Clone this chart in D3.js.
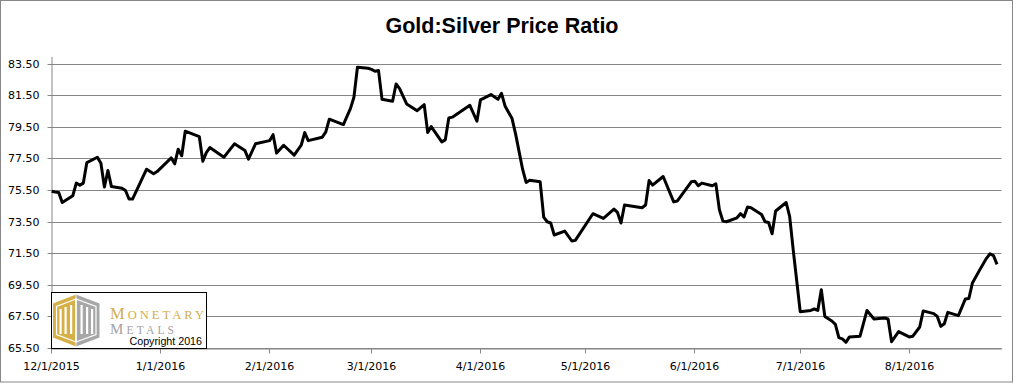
<!DOCTYPE html>
<html><head><meta charset="utf-8">
<script src="https://cdn.jsdelivr.net/npm/d3@7"></script>
<style>body{margin:0;background:#fff}svg{display:block}</style>
</head><body>
<svg id="c" width="1016" height="383"></svg>
<script>
const chartTitle = "Gold:Silver Price Ratio";
const dates = [
"12/1/2015","12/2/2015","12/3/2015","12/4/2015","12/7/2015","12/8/2015","12/9/2015","12/10/2015","12/11/2015",
"12/14/2015","12/15/2015","12/16/2015","12/17/2015","12/18/2015","12/21/2015","12/22/2015","12/23/2015","12/24/2015",
"12/28/2015","12/30/2015","12/31/2015","1/4/2016","1/5/2016","1/6/2016","1/7/2016","1/8/2016","1/12/2016","1/13/2016",
"1/14/2016","1/15/2016","1/19/2016","1/22/2016","1/25/2016","1/26/2016","1/28/2016","2/1/2016","2/2/2016","2/3/2016",
"2/5/2016","2/8/2016","2/10/2016","2/11/2016","2/12/2016","2/16/2016","2/17/2016","2/18/2016","2/22/2016","2/23/2016",
"2/24/2016","2/25/2016","2/26/2016","2/29/2016","3/1/2016","3/2/2016","3/3/2016","3/4/2016","3/7/2016","3/8/2016",
"3/9/2016","3/11/2016","3/14/2016","3/16/2016","3/17/2016","3/18/2016","3/21/2016","3/22/2016","3/23/2016","3/24/2016",
"3/29/2016","3/31/2016","4/1/2016","4/4/2016","4/6/2016","4/7/2016","4/8/2016","4/10/2016","4/11/2016","4/13/2016",
"4/14/2016","4/15/2016","4/18/2016","4/19/2016","4/20/2016","4/21/2016","4/22/2016","4/25/2016","4/27/2016","4/28/2016",
"5/3/2016","5/6/2016","5/9/2016","5/10/2016","5/11/2016","5/12/2016","5/17/2016","5/18/2016","5/19/2016","5/20/2016",
"5/23/2016","5/26/2016","5/27/2016","5/31/2016","6/1/2016","6/2/2016","6/3/2016","6/6/2016","6/7/2016","6/8/2016",
"6/9/2016","6/10/2016","6/13/2016","6/14/2016","6/15/2016","6/16/2016","6/17/2016","6/20/2016","6/21/2016","6/22/2016",
"6/23/2016","6/24/2016","6/27/2016","6/28/2016","6/29/2016","7/1/2016","7/4/2016","7/5/2016","7/6/2016","7/7/2016",
"7/8/2016","7/10/2016","7/11/2016","7/12/2016","7/13/2016","7/14/2016","7/15/2016","7/18/2016","7/20/2016","7/22/2016",
"7/25/2016","7/26/2016","7/27/2016","7/29/2016","8/1/2016","8/2/2016","8/4/2016","8/5/2016","8/8/2016","8/9/2016",
"8/10/2016","8/11/2016","8/12/2016","8/15/2016","8/17/2016","8/18/2016","8/19/2016","8/21/2016","8/23/2016","8/24/2016",
"8/25/2016","8/26/2016"];
const ratios = [
75.45,75.40,75.37,74.74,75.17,75.97,75.84,75.97,77.27,
77.61,77.23,75.72,76.77,75.75,75.65,75.50,74.96,74.96,
76.85,76.56,76.70,77.57,77.19,78.12,77.70,79.26,78.92,77.36,
77.90,78.22,77.61,78.46,78.03,77.49,78.46,78.66,79.04,77.87,
78.37,77.74,78.37,79.17,78.66,78.88,79.22,80.02,79.68,80.18,
80.69,81.41,83.31,83.25,83.18,83.06,83.10,81.28,81.16,82.25,
81.96,80.99,80.56,80.94,79.17,79.55,78.58,78.71,80.10,80.15,
80.90,79.89,81.24,81.58,81.28,81.66,80.86,80.06,79.09,76.85,
76.01,76.15,76.05,73.82,73.52,73.44,72.68,72.93,72.30,72.34,
74.03,73.73,74.32,74.11,73.44,74.58,74.41,74.58,76.13,75.84,
76.39,74.78,74.83,76.05,76.09,75.80,75.97,75.80,75.92,74.28,
73.56,73.52,73.77,74.03,73.82,74.45,74.41,73.98,73.52,73.47,
72.76,74.20,74.74,73.85,71.75,67.82,67.90,67.99,67.90,69.21,
67.52,67.23,67.02,66.18,66.10,65.88,66.22,66.26,67.90,67.36,
67.42,67.36,65.92,66.56,66.22,66.26,66.85,67.87,67.70,67.52,
66.89,67.06,67.78,67.57,68.63,68.66,69.64,70.44,71.20,71.49,
71.37,70.82];
const yTicks = [65.5, 67.5, 69.5, 71.5, 73.5, 75.5, 77.5, 79.5, 81.5, 83.5];
const xTickLabels = ["12/1/2015","1/1/2016","2/1/2016","3/1/2016","4/1/2016","5/1/2016","6/1/2016","7/1/2016","8/1/2016"];
const yMin = 65.5, yMax = 84;
const axisEnd = "8/27/2016";

const parse = d3.timeParse("%m/%d/%Y");
const data = dates.map((d, i) => ({ date: parse(d), value: ratios[i] }));

const svg = d3.select("#c");
const L = 51.7, R = 1001.7, T = 56.4, B = 348.3;
const gridColor = "#868686";
const fontTick = "'DejaVu Sans', Verdana, sans-serif";

// outer border
svg.append("rect").attr("x", 0.5).attr("y", 0.5).attr("width", 1012).attr("height", 381.5)
  .attr("fill", "#fff").attr("stroke", "#878787").attr("stroke-width", 1);

const endDate = parse(axisEnd); endDate.setHours(8);
const x = d3.scaleTime().domain([parse(xTickLabels[0]), endDate]).range([L, R]);
const y = d3.scaleLinear().domain([yMin, yMax]).range([B, T]);
const crisp = v => Math.floor(v) + 0.5;

// title
svg.append("text").attr("x", 502).attr("y", 33).attr("text-anchor", "middle")
  .attr("font-family", "'Liberation Sans', Arial, sans-serif").attr("font-weight", "bold")
  .attr("font-size", 21.5).attr("fill", "#000").text(chartTitle);

// y axis + gridlines
const yAxis = d3.axisLeft(y).tickValues(yTicks).tickSize(-(R - L)).tickSizeOuter(0)
  .tickPadding(12).tickFormat(d3.format(".2f"));
const gy = svg.append("g").attr("transform", `translate(${crisp(L)},0)`).call(yAxis);
gy.selectAll(".tick").attr("transform", d => `translate(0,${crisp(y(d))})`);
gy.selectAll(".tick line").attr("x1", -4).attr("stroke", gridColor);
gy.select(".domain").attr("stroke", gridColor);
gy.selectAll("text").attr("font-family", fontTick).attr("font-size", 11).attr("fill", "#000");

// x axis
const xTickDates = xTickLabels.map(parse);
const xAxis = d3.axisBottom(x).tickValues(xTickDates).tickSize(5).tickSizeOuter(0)
  .tickPadding(9).tickFormat((d, i) => xTickLabels[i]);
const gx = svg.append("g").attr("transform", `translate(0,${crisp(B)})`).call(xAxis);
gx.selectAll(".tick").attr("transform", d => `translate(${crisp(x(d))},0)`);
gx.selectAll(".tick line").attr("stroke", gridColor);
gx.select(".domain").attr("stroke", gridColor);
gx.selectAll("text").attr("font-family", fontTick).attr("font-size", 11).attr("fill", "#000");

// line
const line = d3.line().x(d => x(d.date)).y(d => y(d.value));
svg.append("path").datum(data).attr("d", line).attr("fill", "none")
  .attr("stroke", "#000").attr("stroke-width", 3).attr("stroke-linejoin", "round");

// logo box
const logo = svg.append("g");
logo.append("rect").attr("x", 51.5).attr("y", 292.5).attr("width", 155).attr("height", 56)
  .attr("fill", "#fff").attr("stroke", "#000").attr("stroke-width", 1);
const gold = "#D6B046", grey = "#A7A7A7";
logo.append("polygon").attr("points", "76,294.5 53,303.5 53,337.5 76,346.5").attr("fill", gold);
logo.append("polygon").attr("points", "76,294.5 99.5,303.5 99.5,337.5 76,346.5").attr("fill", grey);
logo.append("polygon").attr("points", "76,299 56.5,306.5 56.5,334.5 76,342")
  .attr("fill", "none").attr("stroke", "#fff").attr("stroke-width", 1.2);
logo.append("polygon").attr("points", "76,299 96,306.5 96,334.5 76,342")
  .attr("fill", "none").attr("stroke", "#fff").attr("stroke-width", 1.2);
[[59.5,309],[64.5,307],[70,305],[80.5,305],[86,307],[91,309]].forEach(([bx, by]) => {
  logo.append("rect").attr("x", bx).attr("y", by).attr("width", 2.2).attr("height", 334 - by).attr("fill", "#fff");
});
logo.append("line").attr("x1", 76).attr("x2", 76).attr("y1", 294.5).attr("y2", 346.5)
  .attr("stroke", "#fff").attr("stroke-width", 0.8);

const serif = "'Liberation Serif', 'DejaVu Serif', serif";
const t1 = logo.append("text").attr("x", 110).attr("y", 318.5).attr("font-family", serif)
  .attr("fill", "#D3AE4B").attr("textLength", 94).attr("lengthAdjust", "spacing");
t1.append("tspan").attr("font-size", 16.5).text("M");
t1.append("tspan").attr("font-size", 12.5).text("ONETARY");
const t2 = logo.append("text").attr("x", 110).attr("y", 333.5).attr("font-family", serif)
  .attr("fill", "#A3A3A3").attr("textLength", 64).attr("lengthAdjust", "spacing");
t2.append("tspan").attr("font-size", 15).text("M");
t2.append("tspan").attr("font-size", 11.5).text("ETALS");
logo.append("text").attr("x", 129.5).attr("y", 345).attr("font-family", "'Liberation Sans', Tahoma, sans-serif")
  .attr("font-size", 10.7).attr("fill", "#000").text("Copyright 2016");
</script>
</body></html>
